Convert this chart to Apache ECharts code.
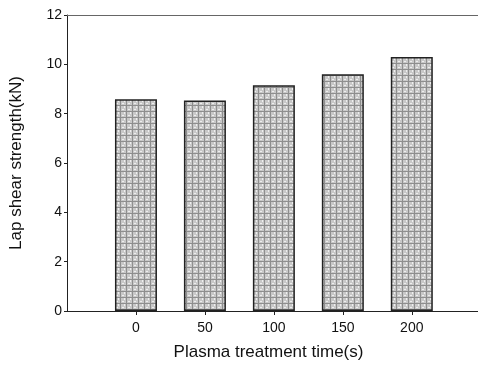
<!DOCTYPE html>
<html>
<head>
<meta charset="utf-8">
<script src="https://cdn.jsdelivr.net/npm/echarts@6/dist/echarts.min.js"></script>
<style>
html, body { margin: 0; padding: 0; background: #fff; }
#main { width: 478px; height: 366px; }
</style>
</head>
<body>
<div id="main"></div>
<script>
// plasma treatment time (s) and lap shear strength (kN)
var times = [0, 50, 100, 150, 200];
var strength = [8.58, 8.53, 9.15, 9.6, 10.3];
var yTicks = [0, 2, 4, 6, 8, 10, 12];

(function(){
	var chart = echarts.init(document.getElementById("main"));

	// grey speckled fill like the scanned bars
	var pat = document.createElement('canvas');
	pat.width = 6; pat.height = 6;
	var ctx = pat.getContext('2d');
	ctx.fillStyle = '#c8c8c8';
	ctx.fillRect(0, 0, 6, 6);
	ctx.fillStyle = '#8e8e8e';
	ctx.fillRect(0, 0, 1, 6);
	ctx.fillRect(0, 3, 6, 1);
	ctx.fillStyle = '#eeeeee';
	ctx.fillRect(2, 1, 2, 1);
	ctx.fillRect(4, 4, 1, 2);

	var data = [];
	for (var i = 0; i < times.length; i++) {
		data.push([times[i], strength[i]]);
	}

	var font = 'Liberation Sans, Arial, sans-serif';

	var option = {
		animation: false,
		grid: {
			left: 67,
			top: 15,
			right: 0,
			bottom: 52
		},
		xAxis: [
			{
				type: 'value',
				min: -50,
				max: 248,
				interval: 50,
				name: 'Plasma treatment time(s)',
				nameLocation: 'middle',
				nameGap: 33,
				nameTextStyle: { fontFamily: font, fontSize: 17, color: '#111', padding: [0, 8, 0, 0] },
				axisLine: { onZero: false, lineStyle: { color: '#222', width: 1 } },
				axisTick: { length: 4, customValues: times, lineStyle: { color: '#222' } },
				axisLabel: {
					fontFamily: font, fontSize: 14, color: '#111', margin: 10,
					customValues: times
				},
				splitLine: { show: false }
			},
			{
				type: 'value',
				position: 'top',
				min: -50,
				max: 248,
				axisLine: { show: true, onZero: false, lineStyle: { color: '#666', width: 1 } },
				axisTick: { show: false },
				axisLabel: { show: false },
				splitLine: { show: false }
			}
		],
		yAxis: {
			type: 'value',
			min: yTicks[0],
			max: yTicks[yTicks.length - 1],
			interval: 2,
			name: 'Lap shear strength(kN)',
			nameLocation: 'middle',
			nameGap: 42,
			nameTextStyle: { fontFamily: font, fontSize: 17, color: '#111' },
			axisLine: { show: true, onZero: false, lineStyle: { color: '#222', width: 1 } },
			axisTick: { show: true, length: 3, lineStyle: { color: '#222' } },
			axisLabel: { fontFamily: font, fontSize: 14, color: '#111', margin: 5 },
			splitLine: { show: false }
		},
		series: [
			{
				type: 'bar',
				xAxisIndex: 0,
				barWidth: 42,
				data: data,
				itemStyle: {
					color: { image: pat, repeat: 'repeat' },
					borderColor: '#222',
					borderWidth: 1.5
				}
			}
		]
	};

	chart.setOption(option);
})();
</script>
</body>
</html>
